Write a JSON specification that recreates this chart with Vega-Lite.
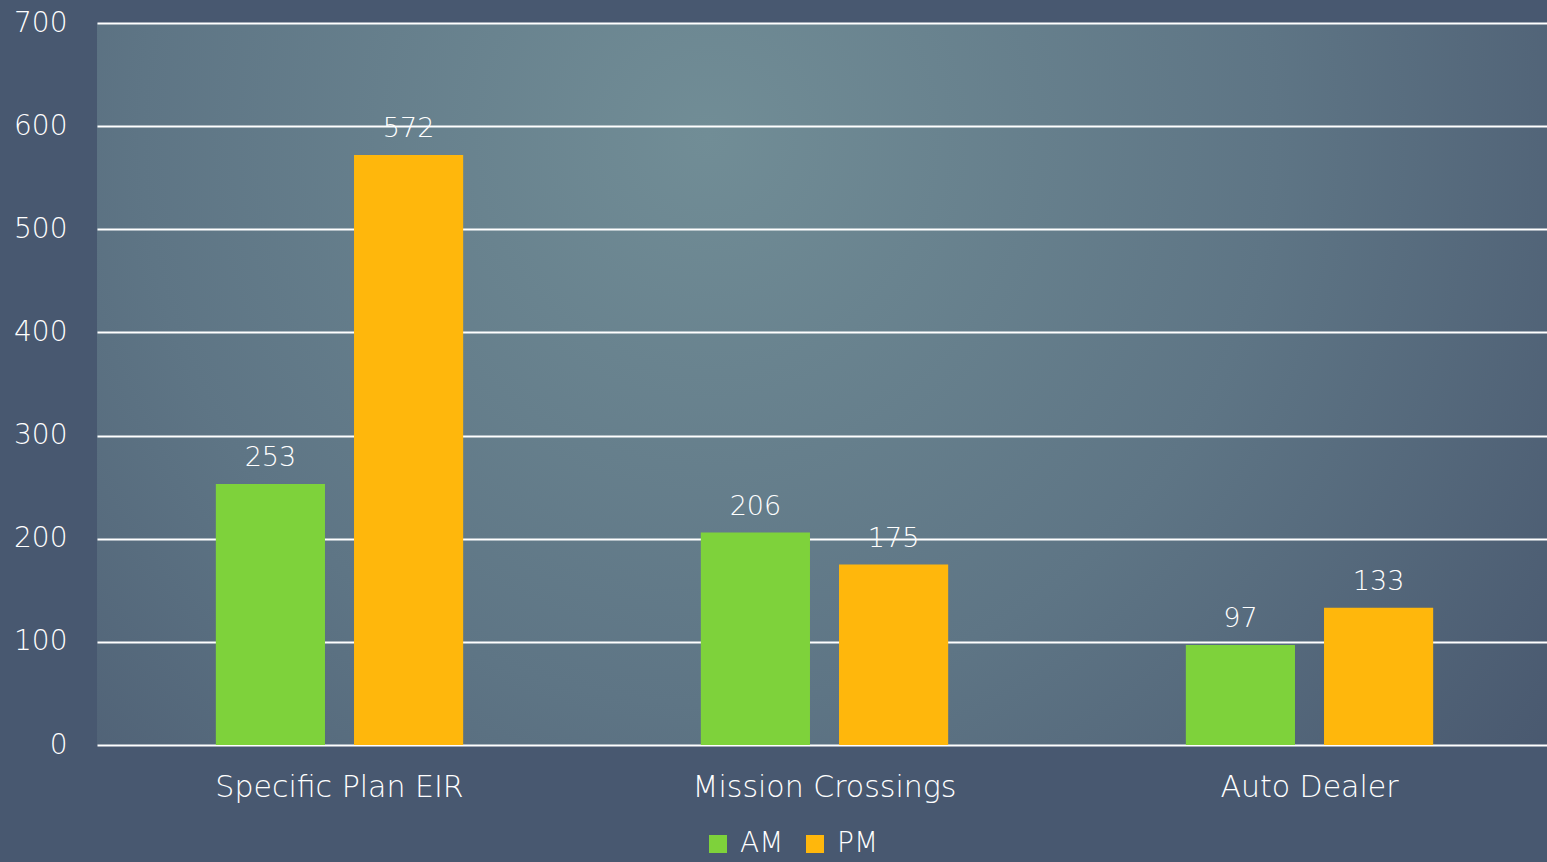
{
  "$schema": "https://vega.github.io/schema/vega-lite/v6.json",
  "width": 1455,
  "height": 722,
  "autosize": {"type": "none"},
  "padding": {"left": 97, "top": 23, "right": 0, "bottom": 117},
  "background": "#485870",
  "config": {
    "view": {
      "stroke": null,
      "fill": {
        "gradient": "radial",
        "x1": 0.42, "y1": 0.33, "r1": 0,
        "x2": 0.42, "y2": 0.33, "r2": 0.78,
        "stops": [
          {"offset": 0, "color": "#718d96"},
          {"offset": 0.5, "color": "#5e7585"},
          {"offset": 1, "color": "#45536b"}
        ]
      }
    },
    "font": "DejaVu Sans",
    "axis": {"labelColor": "#ffffff", "labelFont": "DejaVu Sans", "labelFontWeight": 200},
    "legend": {"labelFont": "DejaVu Sans", "labelFontWeight": 200}
  },
  "data": {
    "values": [
      {"Site": "Specific Plan EIR", "Period": "AM", "Count": 253},
      {"Site": "Specific Plan EIR", "Period": "PM", "Count": 572},
      {"Site": "Mission Crossings", "Period": "AM", "Count": 206},
      {"Site": "Mission Crossings", "Period": "PM", "Count": 175},
      {"Site": "Auto Dealer", "Period": "AM", "Count": 97},
      {"Site": "Auto Dealer", "Period": "PM", "Count": 133}
    ]
  },
  "encoding": {
    "x": {
      "field": "Site", "type": "nominal",
      "scale": {"domain": ["Specific Plan EIR", "Mission Crossings", "Auto Dealer"], "paddingInner": 0.49, "paddingOuter": 0.245},
      "axis": {"title": null, "domain": false, "ticks": false, "grid": false, "labelAngle": 0, "labelFontSize": 30, "labelPadding": 27, "labelLimit": 0}
    },
    "xOffset": {"field": "Period", "type": "nominal", "scale": {"domain": ["AM", "PM"], "paddingInner": 0.21, "paddingOuter": 0}},
    "y": {
      "field": "Count", "type": "quantitative",
      "scale": {"domain": [0, 700], "nice": false},
      "axis": {"title": null, "domain": false, "ticks": false, "values": [0, 100, 200, 300, 400, 500, 600, 700], "grid": true, "gridColor": "#ffffff", "gridWidth": 2, "gridOpacity": 1, "labelFontSize": 28, "labelPadding": 30}
    }
  },
  "layer": [
    {
      "mark": {"type": "bar"},
      "encoding": {
        "color": {
          "field": "Period", "type": "nominal",
          "scale": {"domain": ["AM", "PM"], "range": ["#7ed23b", "#ffb70c"]},
          "legend": {
            "orient": "none", "legendX": 607, "legendY": 807, "direction": "horizontal",
            "title": null, "symbolType": "square", "symbolSize": 324, "symbolStrokeWidth": 0,
            "labelFontSize": 28, "labelColor": "#ffffff", "labelOffset": 8, "columnPadding": 17
          }
        }
      }
    },
    {
      "mark": {"type": "text", "color": "#ffffff", "fontSize": 27, "fontWeight": 200, "baseline": "alphabetic", "dy": -18},
      "encoding": {
        "text": {"field": "Count", "type": "quantitative"}
      }
    }
  ]
}
